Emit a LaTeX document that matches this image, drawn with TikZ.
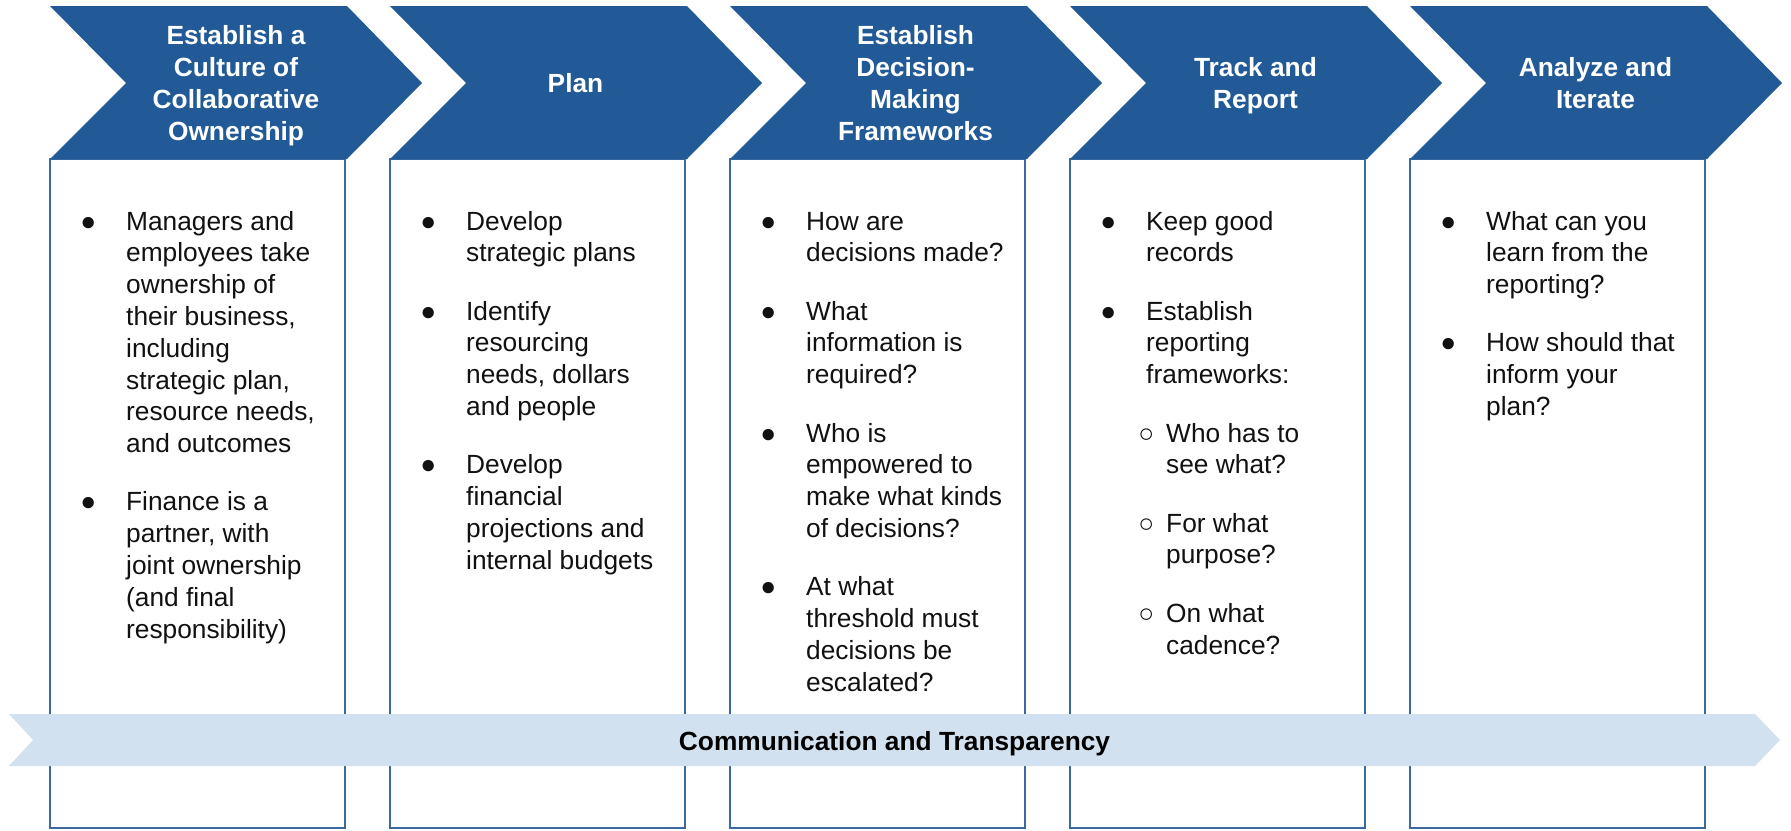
\documentclass[tikz,border=0pt]{standalone}
\usepackage{fontspec}
\setmainfont{Liberation Sans}

\definecolor{chevblue}{HTML}{215A96}
\definecolor{boxline}{HTML}{3A68A0}
\definecolor{bandblue}{HTML}{D2E1F0}
\definecolor{bodyink}{HTML}{111111}

\newcommand\headfont{\fontsize{26.3}{32}\selectfont\bfseries}
\newcommand\bodyfont{\fontsize{26.3}{31.8}\selectfont}
% centred header block, first baseline is the node baseline
\newcommand\hdr[1]{\parbox[t]{300pt}{\centering #1}}
% first-level bullet: dot centred 38pt in, text 76pt in
\newcommand\bitem[1]{\par\leftskip=76pt\noindent
  \llap{\hbox to 38pt{\makebox[0pt]{●}\hss}}#1\par\vspace{26.5pt}}
% second-level bullet: ring centred 76pt in, text 96pt in
\newcommand\sitem[1]{\par\leftskip=96pt\noindent
  \llap{\hbox to 20pt{\makebox[0pt]{○}\hss}}#1\par\vspace{26.5pt}}
\newcommand\column[1]{\parbox[t]{295pt}{\bodyfont #1}}

\tikzset{
  phasebox/.style={draw=boxline, line width=2pt, fill=white},
  chevshape/.style={fill=chevblue},
  bandshape/.style={fill=bandblue},
  headtext/.style={anchor=base, inner sep=0pt, text=white, font=\headfont},
  bodytext/.style={anchor=base west, inner sep=0pt, text=bodyink},
  bandtext/.style={anchor=base, inner sep=0pt, text=black, font=\headfont},
}

\begin{document}
\begin{tikzpicture}[x=1pt, y=-1pt]
\useasboundingbox (0,0) rectangle (1791,830);

% white content panels under each phase
\foreach \L in {50,390,730,1070,1410}{
  \draw[phasebox] (\L,159) rectangle (\L+295,828);
}

% phase chevrons
\foreach \L in {50,390,730,1070,1410}{
  \fill[chevshape] (\L,6) -- (\L+297,6) -- (\L+372,83) -- (\L+297,159)
                   -- (\L,159) -- (\L+76,83) -- cycle;
}

% ribbon across the bottom
\fill[bandshape] (9,714) -- (1755,714) -- (1780,740) -- (1755,766)
                 -- (9,766) -- (33,740) -- cycle;

% phase titles
\node[headtext] (h1) at (236,44)  {\hdr{Establish a\\Culture of\\Collaborative\\Ownership}};
\node[headtext] (h2) at (575.5,92) {\hdr{Plan}};
\node[headtext] (h3) at (915.5,44) {\hdr{Establish\\Decision-\\Making\\Frameworks}};
\node[headtext] (h4) at (1255.5,76) {\hdr{Track and\\Report}};
\node[headtext] (h5) at (1595.5,76) {\hdr{Analyze and\\Iterate}};

% panel contents
\node[bodytext] (b1) at (50,230) {\column{%
  \bitem{Managers and\\employees take\\ownership of\\their business,\\including\\strategic plan,\\resource needs,\\and outcomes}
  \bitem{Finance is a\\partner, with\\joint ownership\\(and final\\responsibility)}}};

\node[bodytext] (b2) at (390,230) {\column{%
  \bitem{Develop\\strategic plans}
  \bitem{Identify\\resourcing\\needs, dollars\\and people}
  \bitem{Develop\\financial\\projections and\\internal budgets}}};

\node[bodytext] (b3) at (730,230) {\column{%
  \bitem{How are\\decisions made?}
  \bitem{What\\information is\\required?}
  \bitem{Who is\\empowered to\\make what kinds\\of decisions?}
  \bitem{At what\\threshold must\\decisions be\\escalated?}}};

\node[bodytext] (b4) at (1070,230) {\column{%
  \bitem{Keep good\\records}
  \bitem{Establish\\reporting\\frameworks:}
  \sitem{Who has to\\see what?}
  \sitem{For what\\purpose?}
  \sitem{On what\\cadence?}}};

\node[bodytext] (b5) at (1410,230) {\column{%
  \bitem{What can you\\learn from the\\reporting?}
  \bitem{How should that\\inform your\\plan?}}};

% ribbon label
\node[bandtext] (band) at (894.5,750) {Communication and Transparency};
\end{tikzpicture}
\end{document}
